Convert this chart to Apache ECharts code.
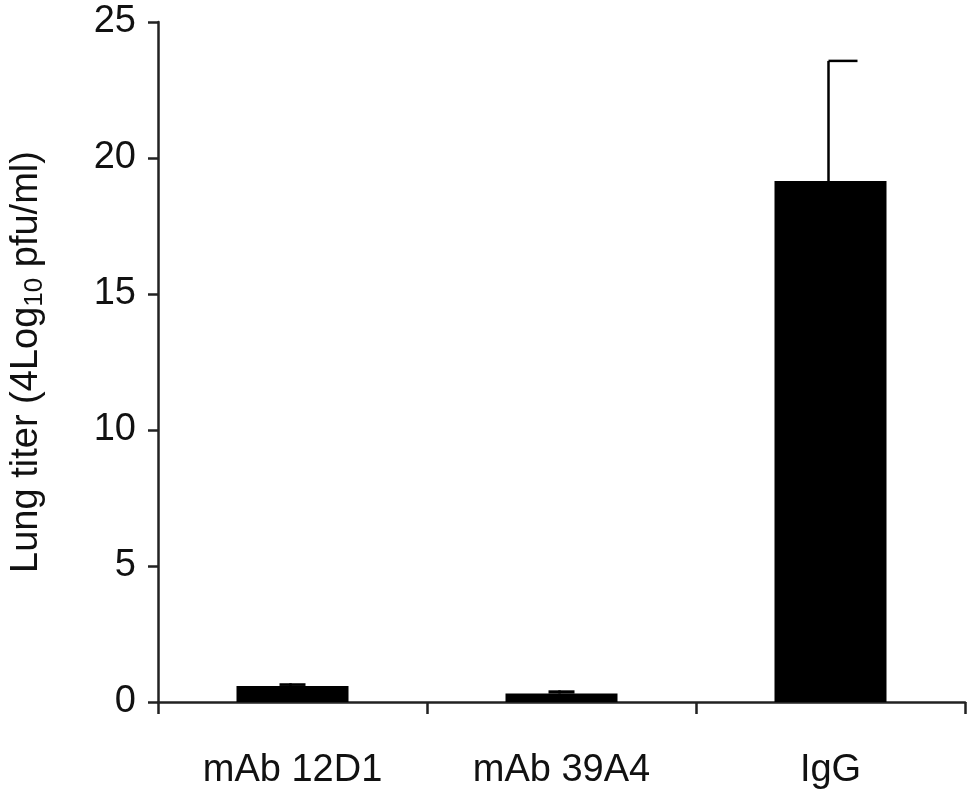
<!DOCTYPE html><html><head><meta charset="utf-8"><script src="https://cdn.jsdelivr.net/npm/echarts@6/dist/echarts.min.js"></script></head><body style="margin:0"><div id="c" style="width:972px;height:800px"></div><script>
const categories=['mAb 12D1','mAb 39A4','IgG'];
const values=[0.59,0.31,19.15];
const errors=[0.10,0.12,4.42];
const yTicks=[0,5,10,15,20,25];
const ch=echarts.init(document.getElementById('c'));
const F='Liberation Sans, Arial, sans-serif';
ch.setOption({animation:false,
grid:{left:146,right:7,top:22,bottom:98},
xAxis:{type:'category',data:categories,axisLine:{lineStyle:{color:'#222',width:2.5}},axisTick:{show:true,length:12,lineStyle:{color:'#222',width:2.5}},axisLabel:{color:'#111',fontFamily:F,fontSize:38,margin:50}},
yAxis:{type:'value',min:0,max:25,interval:5,axisLine:{show:true,lineStyle:{color:'#222',width:2.5}},axisTick:{show:true,length:10,lineStyle:{color:'#222',width:2.5}},splitLine:{show:false},
axisLabel:{color:'#111',fontFamily:F,fontSize:38,margin:22,formatter:v=>yTicks.includes(v)?String(v):''},
name:'Lung titer (4Log{s|10} pfu/ml)',nameLocation:'middle',nameGap:110,nameTextStyle:{color:'#111',fontFamily:F,fontSize:38,rich:{s:{fontSize:26,fontFamily:F,color:'#111',verticalAlign:'bottom',padding:[16,0,0,0]}}}},
series:[{type:'bar',data:values,barWidth:112,itemStyle:{color:'#000'},z:2},
{type:'custom',z:3,data:values.map((v,i)=>[i,v,v+errors[i]]),renderItem:(p,api)=>{const a=api.coord([api.value(0),api.value(1)]),b=api.coord([api.value(0),api.value(2)]);const s={stroke:'#000',lineWidth:2.5};const small=api.value(2)-api.value(1)<1;const x1=small?a[0]-13:a[0]-2,x2=small?a[0]+13:a[0]+27;return{type:'group',children:[{type:'line',shape:{x1:a[0]-2,y1:a[1],x2:a[0]-2,y2:b[1]},style:s},small?{type:'rect',shape:{x:x1,y:b[1],width:x2-x1,height:a[1]-b[1]},style:{fill:'#000'}}:{type:'line',shape:{x1:x1,y1:b[1],x2:x2,y2:b[1]},style:s}]};}}]
});
</script></body></html>
